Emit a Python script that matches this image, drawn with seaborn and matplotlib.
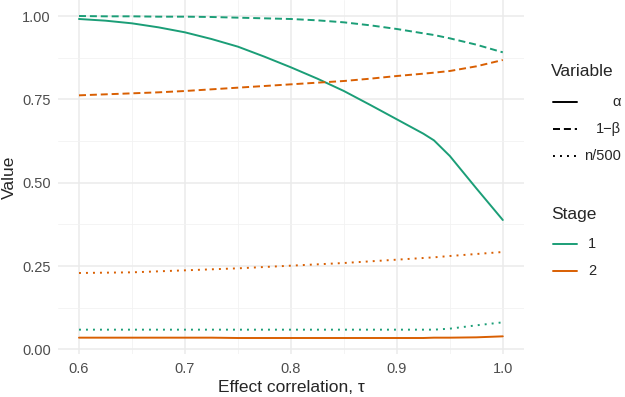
import seaborn as sns
import matplotlib.pyplot as plt
import pandas as pd
from matplotlib.lines import Line2D

# effect correlation grid
tau = [0.6, 0.625, 0.65, 0.675, 0.7, 0.725, 0.75, 0.775, 0.8, 0.825,
       0.85, 0.875, 0.9, 0.925, 0.935, 0.95, 0.975, 1.0]

# stage 1
alpha_1 = [0.991, 0.986, 0.978, 0.966, 0.951, 0.931, 0.908, 0.878, 0.846, 0.812,
           0.775, 0.733, 0.690, 0.647, 0.627, 0.580, 0.483, 0.388]
power_1 = [1.000, 0.999, 0.999, 0.998, 0.998, 0.997, 0.995, 0.993, 0.991, 0.987,
           0.981, 0.972, 0.961, 0.948, 0.943, 0.933, 0.914, 0.891]
n_1 = [0.059, 0.059, 0.059, 0.059, 0.059, 0.059, 0.059, 0.059, 0.059, 0.059,
       0.059, 0.059, 0.059, 0.059, 0.059, 0.062, 0.072, 0.081]

# stage 2
alpha_2 = [0.035, 0.035, 0.035, 0.035, 0.035, 0.035, 0.034, 0.034, 0.034, 0.034,
           0.034, 0.034, 0.034, 0.034, 0.035, 0.035, 0.036, 0.039]
power_2 = [0.762, 0.765, 0.768, 0.771, 0.775, 0.780, 0.785, 0.790, 0.795, 0.800,
           0.805, 0.812, 0.820, 0.827, 0.830, 0.835, 0.849, 0.868]
n_2 = [0.229, 0.230, 0.231, 0.234, 0.237, 0.240, 0.243, 0.247, 0.251, 0.255,
       0.259, 0.264, 0.269, 0.274, 0.276, 0.280, 0.286, 0.292]

var_names = ["α", "1−β", "n/500"]
stages = ["1", "2"]

rows = []
for stage, series in zip(stages, [[alpha_1, power_1, n_1], [alpha_2, power_2, n_2]]):
    for name, vals in zip(var_names, series):
        for t, v in zip(tau, vals):
            rows.append({"tau": t, "value": v, "Variable": name, "Stage": stage})
df = pd.DataFrame(rows)

green = "#1B9E77"
orange = "#D95F02"
pal = {"1": green, "2": orange}
dash_map = {"α": "", "1−β": (3.6, 2.0), "n/500": (1, 2.6)}
lw = 1.4

sns.set_style("white")
plt.rcParams["font.family"] = ["Liberation Sans", "DejaVu Sans"]

fig = plt.figure(figsize=(6.25, 3.97), dpi=100)
ax = fig.add_axes([57.8 / 625, 43 / 397, (524 - 57.8) / 625, 354 / 397])

sns.lineplot(data=df, x="tau", y="value", hue="Stage", style="Variable",
             palette=pal, dashes=dash_map, linewidth=lw, legend=False, ax=ax)

ax.set_xlim(0.58, 1.02)
ax.set_ylim(-0.014, 1.048)
ax.set_xticks([0.6, 0.7, 0.8, 0.9, 1.0])
ax.set_xticklabels(["0.6", "0.7", "0.8", "0.9", "1.0"])
ax.set_yticks([0, 0.25, 0.5, 0.75, 1.0])
ax.set_yticklabels(["0.00", "0.25", "0.50", "0.75", "1.00"])
ax.set_xticks([0.65, 0.75, 0.85, 0.95], minor=True)
ax.set_yticks([0.125, 0.375, 0.625, 0.875], minor=True)
ax.grid(which="major", color="#EBEBEB", linewidth=1.1)
ax.grid(which="minor", color="#F2F2F2", linewidth=0.6)
ax.set_axisbelow(True)
for s in ax.spines.values():
    s.set_visible(False)
ax.tick_params(which="both", length=0)
ax.tick_params(axis="x", labelsize=10.5, labelcolor="#4D4D4D", pad=6)
ax.tick_params(axis="y", labelsize=10.5, labelcolor="#4D4D4D", pad=5)
ax.set_xlabel("Effect correlation, τ", fontsize=12.5, labelpad=3)
ax.set_ylabel("Value", fontsize=12.5, labelpad=4)

# legends drawn in figure pixel coords
H = 397


def fy(py):
    return 1 - py / H


fig.text(551 / 625, fy(72), "Variable", fontsize=12.5, va="center", ha="left")
keys = [("α", "-", 102), ("1−β", (0, (3.6, 2.0)), 129), ("n/500", (0, (1, 2.6)), 156)]
for lab, ls, py in keys:
    fig.add_artist(Line2D([553 / 625, 577 / 625], [fy(py), fy(py)], color="black",
                          linewidth=lw, linestyle=ls, transform=fig.transFigure))
    fig.text(621 / 625, fy(py), lab, fontsize=10.5, va="center", ha="right")

fig.text(551 / 625, fy(215), "Stage", fontsize=12.5, va="center", ha="left")
for lab, col, py in [("1", green, 244), ("2", orange, 271)]:
    fig.add_artist(Line2D([553 / 625, 577 / 625], [fy(py), fy(py)], color=col,
                          linewidth=lw, transform=fig.transFigure))
    fig.text(588 / 625, fy(py), lab, fontsize=10.5, va="center", ha="left")

fig.savefig("out.png", dpi=100)
